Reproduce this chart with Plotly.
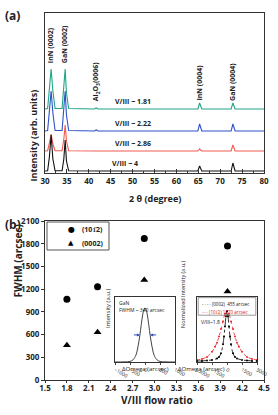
import plotly.graph_objects as go

# ---------------- data ----------------
# Panel (a): XRD 2theta scans (relative intensities)
two_theta = [30, 30.6, 31.0, 31.4, 31.8, 32.3, 33.9, 34.3, 34.6, 34.9, 35.4,
             41.3, 41.7, 42.1, 64.9, 65.3, 65.8, 72.5, 72.9, 73.4, 80]
int_181 = [0, 0.5, 20, 40, 18, 0.5, 0.5, 20, 40, 16, 0.5, 0, 1, 0, 0, 6, 0, 0, 6, 0, 0]
int_222 = [0, 0.5, 20, 40, 18, 0.5, 0.5, 20, 40, 16, 0.5, 0, 1, 0, 0, 7, 0, 0, 7, 0, 0]
int_286 = [0, 0.3, 8, 17, 7, 0.3, 0.3, 12, 26, 10, 0.3, 0, 0, 0, 0, 2, 0, 0, 6, 0, 0]
int_4 = [0, 0.2, 14, 36, 12, 0.2, 0.2, 12, 31, 10, 0.2, 0, 0, 0, 0, 5, 0, 0, 8, 0, 0]
series_a = [("V/III ~ 1.81", int_181), ("V/III ~ 2.22", int_222),
            ("V/III ~ 2.86", int_286), ("V/III ~ 4", int_4)]
offsets_a = [64, 42, 22, 2]
colors_a = ["#22a487", "#2d52c8", "#f05a50", "#111111"]

peak_labels = ["InN (0002)", "GaN (0002)", "Al<sub>2</sub>O<sub>3</sub>(0006)", "InN (0004)", "GaN (0004)"]
peak_pos = [31.4, 34.6, 41.7, 65.3, 72.9]

# Panel (b): FWHM vs V/III ratio
ratio = [1.8, 2.22, 2.86, 4.0]
fwhm_1012 = [1065, 1230, 1870, 1770]
fwhm_0002 = [460, 630, 1320, 1170]
b_ticks_x = [1.5, 1.8, 2.1, 2.4, 2.7, 3.0, 3.3, 3.6, 3.9, 4.2, 4.5]
b_ticks_y = [0, 300, 600, 900, 1200, 1500, 1800, 2100]

# Inset 1: GaN rocking curve
om1 = [-1000, -700, -500, -400, -300, -250, -200, -150, -100, -50, 0,
       50, 100, 150, 200, 250, 300, 400, 500, 700, 1000]
i1 = [0, 0.002, 0.01, 0.04, 0.13, 0.24, 0.39, 0.58, 0.79, 0.94, 1.0,
      0.94, 0.79, 0.58, 0.39, 0.24, 0.13, 0.04, 0.01, 0.002, 0]

# Inset 2: normalized rocking curves at V/III~1.8
om_k = [-3000, -2500, -2000, -1500, -1000, -800, -600, -400, -300, -200, -100, 0,
        100, 200, 300, 400, 600, 800, 1000, 1500, 2000, 2500, 3000]
i_k = [0.02, 0.02, 0.03, 0.04, 0.07, 0.1, 0.17, 0.35, 0.5, 0.7, 0.9, 1.0,
       0.9, 0.7, 0.5, 0.35, 0.17, 0.1, 0.07, 0.04, 0.03, 0.02, 0.02]
om_r = [-3000, -2500, -2000, -1500, -1200, -1000, -800, -600, -400, -200, 0,
        200, 400, 600, 800, 1000, 1200, 1500, 2000, 2500, 3000]
i_r = [0.04, 0.06, 0.1, 0.2, 0.3, 0.38, 0.5, 0.65, 0.8, 0.95, 1.0,
       0.95, 0.8, 0.65, 0.5, 0.38, 0.3, 0.2, 0.1, 0.06, 0.04]

FONT = "Open Sans"
W, H = 278, 415


def px_x(p):
    return p / W


def px_y(p):
    return 1 - p / H


fig = go.Figure()

# ---- panel (a) traces ----
for (name, vals), off, col in zip(series_a, offsets_a, colors_a):
    fig.add_trace(go.Scatter(x=two_theta, y=[v + off for v in vals], mode="lines",
                             line=dict(color=col, width=1.1), showlegend=False,
                             xaxis="x", yaxis="y", hoverinfo="skip"))

# ---- panel (b) traces ----
fig.add_trace(go.Scatter(x=ratio, y=fwhm_1012, mode="markers", name="(101\u03052)",
                         marker=dict(symbol="circle", size=7, color="black"),
                         showlegend=False, xaxis="x2", yaxis="y2"))
fig.add_trace(go.Scatter(x=ratio, y=fwhm_0002, mode="markers", name="(0002)",
                         marker=dict(symbol="triangle-up", size=7, color="black"),
                         showlegend=False, xaxis="x2", yaxis="y2"))

# ---- inset 1 ----
fig.add_trace(go.Scatter(x=om1, y=i1, mode="lines", line=dict(color="#444444", width=1, shape="spline"),
                         showlegend=False, xaxis="x3", yaxis="y3"))
# ---- inset 2 ----
fig.add_trace(go.Scatter(x=om_r, y=i_r, mode="lines+markers",
                         line=dict(color="#ee2222", width=0.8, dash="dot", shape="spline"),
                         marker=dict(size=2, color="#ee2222"),
                         showlegend=False, xaxis="x4", yaxis="y4"))
fig.add_trace(go.Scatter(x=om_k, y=i_k, mode="lines+markers",
                         line=dict(color="black", width=0.8, dash="dashdot", shape="spline"),
                         marker=dict(size=2, color="black"),
                         showlegend=False, xaxis="x4", yaxis="y4"))

tickfont = dict(family=FONT, size=8, color="#222", weight="bold")
small = dict(family=FONT, size=5, color="#222")

axis_common = dict(showline=True, linecolor="#333", linewidth=1, mirror=True,
                   showgrid=False, zeroline=False, automargin=False)

fig.update_layout(
    width=W, height=H, margin=dict(l=0, r=0, t=0, b=0, autoexpand=False),
    paper_bgcolor="white", plot_bgcolor="white",
    font=dict(family=FONT),
    showlegend=False,
    xaxis=dict(domain=[px_x(45), px_x(264)], range=[30, 80], anchor="y",
               tickvals=[30, 35, 40, 45, 50, 55, 60, 65, 70, 75, 80],
               ticks="inside", ticklen=4, tickcolor="#333",
               minor=dict(dtick=2.5, ticks="inside", ticklen=2, tickcolor="#333"),
               tickfont=tickfont, **axis_common),
    yaxis=dict(domain=[px_y(173), px_y(13)], range=[0, 160], anchor="x",
               showticklabels=False, ticks="", **axis_common),
    xaxis2=dict(domain=[px_x(45), px_x(264)], range=[1.5, 4.5], anchor="y2",
                tickvals=b_ticks_x, ticktext=[f"{v:.1f}" for v in b_ticks_x],
                ticks="outside", ticklen=2, tickcolor="#333", ticklabelstandoff=-2,
                tickfont=tickfont, **axis_common),
    yaxis2=dict(domain=[px_y(380), px_y(221)], range=[0, 2100], anchor="x2",
                tickvals=b_ticks_y, ticktext=[str(v) for v in b_ticks_y],
                ticks="outside", ticklen=3, tickcolor="#333",
                tickfont=tickfont, **axis_common),
    xaxis3=dict(domain=[px_x(115), px_x(175)], range=[-1000, 1000], anchor="y3",
                tickvals=[-1000, -500, 0, 500, 1000], ticks="outside", ticklen=2,
                tickfont=small, **axis_common),
    yaxis3=dict(domain=[px_y(362), px_y(297)], range=[0, 1.2], anchor="x3",
                showticklabels=False, ticks="", **axis_common),
    xaxis4=dict(domain=[px_x(197), px_x(257)], range=[-3000, 3000], anchor="y4",
                tickvals=[-3000, -1500, 0, 1500, 3000], ticks="outside", ticklen=2,
                tickfont=small, **axis_common),
    yaxis4=dict(domain=[px_y(362), px_y(297)], range=[0, 1.28], anchor="x4",
                showticklabels=False, ticks="", **axis_common),
)

ann = []
bold = lambda s: dict(family=FONT, size=s, color="#222", weight="bold")
# panel letters
ann.append(dict(text="(a)", x=px_x(3), y=px_y(15), xref="paper", yref="paper",
                xanchor="left", yanchor="middle", showarrow=False, font=bold(12)))
ann.append(dict(text="(b)", x=px_x(3), y=px_y(224), xref="paper", yref="paper",
                xanchor="left", yanchor="middle", showarrow=False, font=bold(12)))
# axis titles
ann.append(dict(text="Intensity (arb. units)", x=px_x(24), y=px_y(88), xref="paper", yref="paper",
                textangle=-90, showarrow=False, font=bold(9)))
ann.append(dict(text="2 \u03b8 (degree)", x=px_x(155), y=px_y(198), xref="paper", yref="paper",
                showarrow=False, font=bold(9)))
ann.append(dict(text="FWHM (arcsec)", x=px_x(8), y=px_y(300), xref="paper", yref="paper",
                textangle=-90, showarrow=False, font=bold(10)))
ann.append(dict(text="V/III flow ratio", x=px_x(157), y=px_y(409), xref="paper", yref="paper",
                showarrow=False, font=bold(10)))
# manual legend for panel (b)
ann.append(dict(text="\u25cf", x=px_x(66), y=px_y(229), xref="paper", yref="paper",
                showarrow=False, font=dict(family="DejaVu Sans", size=8, color="black")))
ann.append(dict(text="\u25b2", x=px_x(66), y=px_y(243), xref="paper", yref="paper",
                showarrow=False, font=dict(family="DejaVu Sans", size=7, color="black")))
ann.append(dict(text="(101\u03052)", x=px_x(80), y=px_y(229), xref="paper", yref="paper",
                xanchor="left", showarrow=False, font=bold(7)))
ann.append(dict(text="(0002)", x=px_x(80), y=px_y(243), xref="paper", yref="paper",
                xanchor="left", showarrow=False, font=bold(7)))
# peak labels
for lab, pos in zip(peak_labels, peak_pos):
    yb = 108 if pos < 36 else 70
    ann.append(dict(text=lab, x=pos, y=yb, xref="x", yref="y", textangle=-90,
                    xanchor="center", yanchor="bottom", showarrow=False, font=bold(7)))
# series labels
lab_x = [50.2, 50.2, 50.2, 48.3]
for (name, _), off, lx in zip(series_a, offsets_a, lab_x):
    ann.append(dict(text=name, x=lx, y=off + 1, xref="x", yref="y", yanchor="bottom",
                    showarrow=False, font=bold(7)))
# inset 1 texts
ann.append(dict(text="GaN<br>FWHM ~ 340 arcsec", x=0.03, y=0.99, xref="x3 domain", yref="y3 domain",
                xanchor="left", yanchor="top", align="left", showarrow=False, font=small))
ann.append(dict(text="Intensity (a.u.)", x=px_x(108), y=px_y(330), xref="paper", yref="paper",
                textangle=-90, showarrow=False, font=dict(family=FONT, size=6, color="#222")))
ann.append(dict(text="\u0394Omega (arcsec)", x=px_x(145), y=px_y(375), xref="paper", yref="paper",
                showarrow=False, font=dict(family=FONT, size=6, color="#222")))
ann.append(dict(text="", x=-170, y=0.5, ax=-420, ay=0.5, xref="x3", yref="y3",
                axref="x3", ayref="y3", showarrow=True, arrowhead=2, arrowsize=0.6,
                arrowwidth=1, arrowcolor="#2a4fc4"))
ann.append(dict(text="", x=170, y=0.5, ax=420, ay=0.5, xref="x3", yref="y3",
                axref="x3", ayref="y3", showarrow=True, arrowhead=2, arrowsize=0.6,
                arrowwidth=1, arrowcolor="#2a4fc4"))
# inset 2 texts
ann.append(dict(text="- \u00b7 - \u00b7 (0002)  455 arcsec", x=0.05, y=0.97, xref="x4 domain", yref="y4 domain",
                xanchor="left", yanchor="top", showarrow=False,
                font=dict(family=FONT, size=4.5, color="#111")))
ann.append(dict(text="\u00b7\u00b7\u00b7\u00b7\u00b7 (101\u03052) 1070 arcsec", x=0.05, y=0.85, xref="x4 domain", yref="y4 domain",
                xanchor="left", yanchor="top", showarrow=False,
                font=dict(family=FONT, size=4.5, color="#dd1111")))
ann.append(dict(text="V/III~1.8", x=0.04, y=0.7, xref="x4 domain", yref="y4 domain",
                xanchor="left", yanchor="top", showarrow=False,
                font=dict(family=FONT, size=5, color="#111")))
ann.append(dict(text="Normalized Intensity (a.u.)", x=px_x(189), y=px_y(330), xref="paper", yref="paper",
                textangle=-90, showarrow=False, font=dict(family=FONT, size=5.5, color="#222")))
ann.append(dict(text="\u0394Omega (arcsec)", x=px_x(227), y=px_y(375), xref="paper", yref="paper",
                showarrow=False, font=dict(family=FONT, size=6, color="#222")))
fig.update_layout(annotations=ann)

# panel (b) legend box and inset 2 legend box
fig.add_shape(type="rect", x0=px_x(47), x1=px_x(109), y0=px_y(250), y1=px_y(222),
              xref="paper", yref="paper", line=dict(color="#555", width=1))
fig.add_shape(type="rect", x0=0.02, x1=0.98, y0=0.72, y1=0.99, xref="x4 domain", yref="y4 domain",
              line=dict(color="#555", width=0.6), fillcolor="rgba(0,0,0,0)")

fig.write_html("out.html")
